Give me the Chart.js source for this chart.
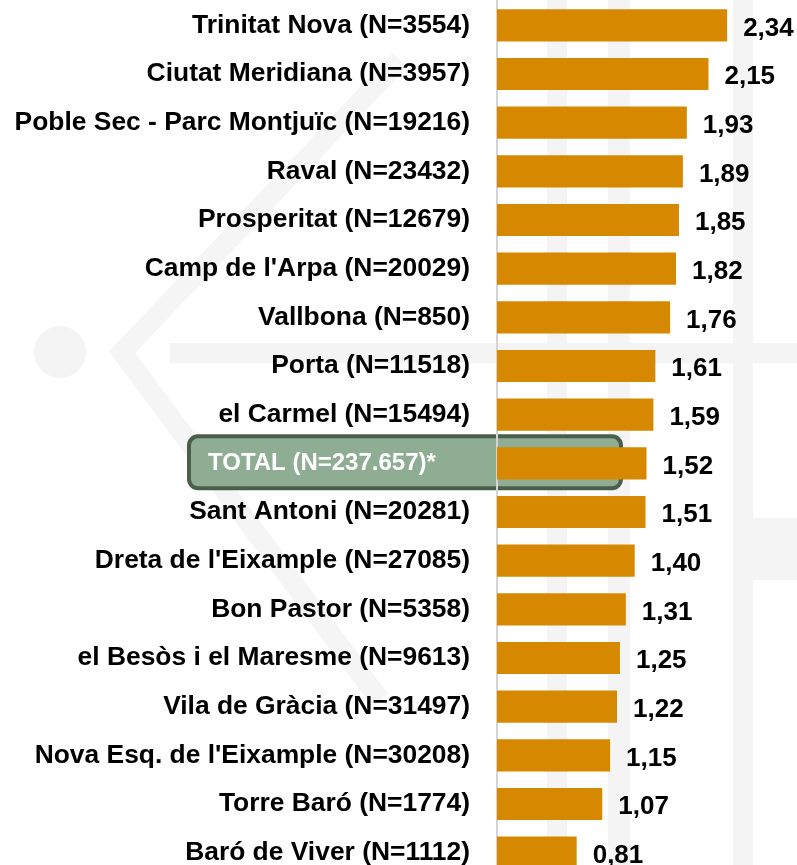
<!DOCTYPE html>
<html>
<head>
<meta charset="utf-8">
<script src="https://cdn.jsdelivr.net/npm/chart.js@4.4.0/dist/chart.umd.min.js"></script>
<style>
html,body{margin:0;padding:0;background:#fff;overflow:hidden;}
#wrap{width:797px;height:865px;overflow:hidden;position:relative;}
canvas{display:block;}
</style>
</head>
<body>
<div id="wrap"><canvas id="c" width="797" height="877"></canvas></div>
<script>
const categories = [
  "Trinitat Nova (N=3554)",
  "Ciutat Meridiana (N=3957)",
  "Poble Sec - Parc Montjuïc (N=19216)",
  "Raval (N=23432)",
  "Prosperitat (N=12679)",
  "Camp de l'Arpa (N=20029)",
  "Vallbona (N=850)",
  "Porta (N=11518)",
  "el Carmel (N=15494)",
  "TOTAL (N=237.657)*",
  "Sant Antoni (N=20281)",
  "Dreta de l'Eixample (N=27085)",
  "Bon Pastor (N=5358)",
  "el Besòs i el Maresme (N=9613)",
  "Vila de Gràcia (N=31497)",
  "Nova Esq. de l'Eixample (N=30208)",
  "Torre Baró (N=1774)",
  "Baró de Viver (N=1112)"
];
const values = [2.34, 2.15, 1.93, 1.89, 1.85, 1.82, 1.76, 1.61, 1.59, 1.52, 1.51, 1.40, 1.31, 1.25, 1.22, 1.15, 1.07, 0.81];
const totalIndex = 9;

const FONT = "'Liberation Sans', Arial, Helvetica, sans-serif";

const bgPlugin = {
  id: 'bg',
  beforeDraw(chart) {
    const ctx = chart.ctx;
    const W = chart.width, H = chart.height;
    ctx.save();
    ctx.fillStyle = '#ffffff';
    ctx.fillRect(0, 0, W, H);
    // faint watermark
    ctx.fillStyle = '#F4F4F4';
    ctx.strokeStyle = '#F5F5F5';
    ctx.beginPath();
    ctx.arc(60, 352, 26, 0, Math.PI * 2);
    ctx.fill();
    ctx.lineWidth = 20;
    ctx.lineJoin = 'miter';
    ctx.beginPath();
    ctx.moveTo(400, 60);
    ctx.lineTo(122, 352);
    ctx.lineTo(380, 700);
    ctx.stroke();
    ctx.fillRect(170, 343, 627, 20);
    ctx.fillRect(547, 0, 20, H);
    ctx.fillRect(608, 0, 22, H);
    ctx.fillRect(733, 0, 20, H);
    ctx.fillRect(750, 518, 47, 62);
    ctx.restore();

    // TOTAL box behind axis and bars
    const y = chart.scales.y.getPixelForValue(totalIndex);
    const left = chart.chartArea.left;
    const x0 = left - 308, x1 = left + 124;
    const y0 = y - 27, y1 = y + 25;
    ctx.save();
    ctx.beginPath();
    ctx.roundRect(x0, y0, x1 - x0, y1 - y0, 9);
    ctx.fillStyle = '#8FAD93';
    ctx.fill();
    ctx.lineWidth = 4;
    ctx.strokeStyle = '#4A5F4B';
    ctx.stroke();
    ctx.fillStyle = '#ffffff';
    ctx.font = 'bold 24px ' + FONT;
    ctx.textAlign = 'left';
    ctx.textBaseline = 'middle';
    ctx.fillText(categories[totalIndex], x0 + 19, y);
    ctx.restore();
  }
};

const valuePlugin = {
  id: 'vals',
  afterDatasetsDraw(chart) {
    const ctx = chart.ctx;
    const meta = chart.getDatasetMeta(0);
    ctx.save();
    ctx.fillStyle = '#000';
    ctx.font = 'bold 26px ' + FONT;
    ctx.textAlign = 'left';
    ctx.textBaseline = 'middle';
    meta.data.forEach((bar, i) => {
      const txt = values[i].toFixed(2).replace('.', ',');
      ctx.fillText(txt, bar.x + 16, bar.y + 3);
    });
    ctx.restore();
  }
};

new Chart(document.getElementById('c'), {
  type: 'bar',
  data: {
    labels: categories,
    datasets: [{
      data: values,
      backgroundColor: '#D68900',
      borderWidth: 0,
      barPercentage: 0.66,
      categoryPercentage: 1.0
    }]
  },
  options: {
    indexAxis: 'y',
    responsive: false,
    devicePixelRatio: 1,
    animation: false,
    layout: { padding: { top: 1, right: 0, bottom: 0, left: 0 } },
    plugins: { legend: { display: false }, tooltip: { enabled: false } },
    scales: {
      x: {
        min: 0, max: 3.05,
        display: false
      },
      y: {
        grid: { display: false, drawTicks: false },
        border: { display: true, color: '#D4D4D4', width: 2 },
        ticks: {
          padding: 27,
          autoSkip: false,
          color: (c) => c.index === totalIndex ? 'rgba(0,0,0,0)' : '#000000',
          font: { family: FONT, size: 26.4, weight: 'bold' }
        },
        afterFit(scale) {
          scale.width = 497;
          scale.paddingTop = 0;
          scale.paddingBottom = 0;
        }
      }
    }
  },
  plugins: [bgPlugin, valuePlugin]
});
</script>
</body>
</html>
